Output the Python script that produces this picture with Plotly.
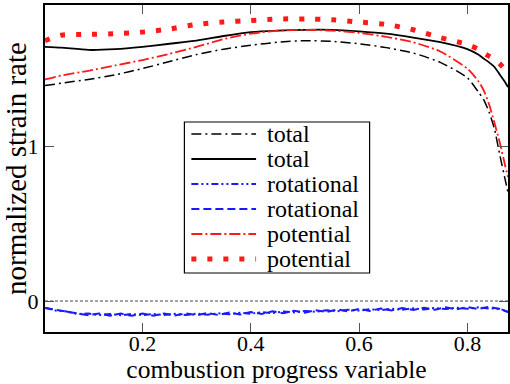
import plotly.graph_objects as go

# progress variable grid for the smooth strain-rate curves
c = [0.02, 0.05, 0.10, 0.15, 0.20, 0.25, 0.30, 0.35, 0.40, 0.45, 0.50, 0.55,
     0.60, 0.65, 0.70, 0.75, 0.80, 0.82, 0.83, 0.84, 0.85, 0.86, 0.87, 0.875]

total_a = [1.39, 1.405, 1.43, 1.46, 1.50, 1.545, 1.59, 1.625, 1.65, 1.67, 1.68, 1.675,
           1.66, 1.635, 1.60, 1.54, 1.44, 1.35, 1.30, 1.22, 1.11, 0.94, 0.78, 0.70]
total_b = [1.64, 1.635, 1.62, 1.625, 1.64, 1.66, 1.68, 1.71, 1.735, 1.745, 1.75, 1.75,
           1.74, 1.725, 1.70, 1.67, 1.625, 1.59, 1.565, 1.54, 1.51, 1.46, 1.41, 1.38]
potential_a = [1.43, 1.455, 1.485, 1.52, 1.555, 1.595, 1.64, 1.69, 1.725, 1.745, 1.75, 1.745,
               1.73, 1.705, 1.67, 1.61, 1.50, 1.42, 1.36, 1.27, 1.15, 1.02, 0.87, 0.80]
potential_b = [1.68, 1.715, 1.72, 1.725, 1.735, 1.755, 1.785, 1.80, 1.81, 1.82, 1.82, 1.815,
               1.80, 1.785, 1.75, 1.70, 1.655, 1.625, 1.60, 1.58, 1.56, 1.53, 1.49, 1.46]

# finer grid for the noisy rotational contributions
c_rot = [0.02, 0.04, 0.06, 0.08, 0.10, 0.12, 0.14, 0.16, 0.18, 0.20, 0.22, 0.24,
         0.26, 0.28, 0.30, 0.32, 0.34, 0.36, 0.38, 0.40, 0.42, 0.44, 0.46, 0.48,
         0.50, 0.52, 0.54, 0.56, 0.58, 0.60, 0.62, 0.64, 0.66, 0.68, 0.70, 0.72,
         0.74, 0.76, 0.78, 0.80, 0.82, 0.84, 0.86, 0.875]
rotational_a = [-0.043, -0.062, -0.068, -0.084, -0.081, -0.091, -0.084, -0.092, -0.084, -0.092, -0.084, -0.091,
                -0.083, -0.091, -0.081, -0.088, -0.079, -0.085, -0.076, -0.082, -0.072, -0.078, -0.068, -0.074,
                -0.064, -0.070, -0.060, -0.066, -0.056, -0.062, -0.053, -0.059, -0.050, -0.056, -0.047, -0.054,
                -0.045, -0.052, -0.043, -0.050, -0.041, -0.048, -0.050, -0.070]
rotational_b = [-0.045, -0.058, -0.070, -0.080, -0.092, -0.080, -0.095, -0.081, -0.095, -0.081, -0.095, -0.080,
                -0.094, -0.079, -0.092, -0.077, -0.090, -0.074, -0.087, -0.071, -0.083, -0.067, -0.079, -0.063,
                -0.075, -0.059, -0.071, -0.055, -0.067, -0.051, -0.064, -0.048, -0.061, -0.045, -0.058, -0.043,
                -0.056, -0.041, -0.054, -0.039, -0.052, -0.037, -0.052, -0.072]

x_ticks = [0.2, 0.4, 0.6, 0.8]
y_ticks = [0, 1]

FONT = "'Liberation Serif', 'Times New Roman', 'DejaVu Serif', serif"

series = [
    dict(name="total", x=c, y=total_a, color="black", dash="10px,4px,2px,4px", width=1.5, shape="spline"),
    dict(name="total", x=c, y=total_b, color="black", dash="solid", width=1.8, shape="spline"),
    dict(name="rotational", x=c_rot, y=rotational_a, color="#1a1aff", dash="7px,3px,2px,3px,2px,3px", width=2, shape="linear"),
    dict(name="rotational", x=c_rot, y=rotational_b, color="#1a1aff", dash="8px,4px", width=2, shape="linear"),
    dict(name="potential", x=c, y=potential_a, color="#ff1a1a", dash="11px,3px,2px,3px", width=1.8, shape="spline"),
    dict(name="potential", x=c, y=potential_b, color="#ff1a1a", dash="5px,11px", width=5, shape="spline"),
]

fig = go.Figure()
for s in series:
    fig.add_trace(go.Scatter(
        x=s["x"], y=s["y"], mode="lines", name=s["name"], showlegend=False,
        line=dict(color=s["color"], dash=s["dash"], width=s["width"], shape=s["shape"], smoothing=0.6),
    ))

# reference line at zero
fig.add_hline(y=0, line=dict(color="#444", width=1, dash="3px,2px"), layer="below")

# plot-area geometry (pixels) used to place the boxed legend
W, H = 510, 384
ML, MR, MT, MB = 45, 0, 5, 52
PW, PH = W - ML - MR, H - MT - MB


def px_x(p):
    return (p - ML) / PW


def px_y(p):
    return 1 - (p - MT) / PH


fig.add_shape(type="rect", xref="paper", yref="paper",
              x0=px_x(185), x1=px_x(371), y0=px_y(273), y1=px_y(122),
              line=dict(color="black", width=1.2), fillcolor="white", layer="above")
for i, s in enumerate(series):
    row = 134 + 25 * i
    fig.add_shape(type="line", xref="paper", yref="paper",
                  x0=px_x(192), x1=px_x(257), y0=px_y(row), y1=px_y(row),
                  line=dict(color=s["color"], dash=s["dash"], width=s["width"]), layer="above")
    fig.add_annotation(xref="paper", yref="paper", x=px_x(266), y=px_y(row),
                       text=s["name"], showarrow=False, xanchor="left", yanchor="middle",
                       font=dict(family=FONT, size=24, color="black"))

axis_common = dict(
    showline=True, linecolor="black", linewidth=2, mirror="ticks",
    ticks="inside", ticklen=9, tickwidth=1.3, tickcolor="#555",
    showgrid=False, zeroline=False,
    tickfont=dict(family=FONT, size=22, color="black"),
)

fig.update_layout(
    width=W, height=H,
    margin=dict(l=ML, r=MR, t=MT, b=MB),
    paper_bgcolor="white", plot_bgcolor="white",
    xaxis=dict(range=[0.02, 0.875], tickvals=x_ticks, ticktext=[f"{v:.1f}" for v in x_ticks],
               ticklabelstandoff=-9,
               title=dict(text="combustion progress variable", font=dict(family=FONT, size=25.5, color="black"),
                          standoff=7),
               **axis_common),
    yaxis=dict(range=[-0.2, 1.91], tickvals=y_ticks, ticktext=[str(v) for v in y_ticks],
               title=dict(text="normalized strain rate", font=dict(family=FONT, size=29, color="black"),
                          standoff=0),
               **axis_common),
    showlegend=False,
)

fig.write_html("out.html")
